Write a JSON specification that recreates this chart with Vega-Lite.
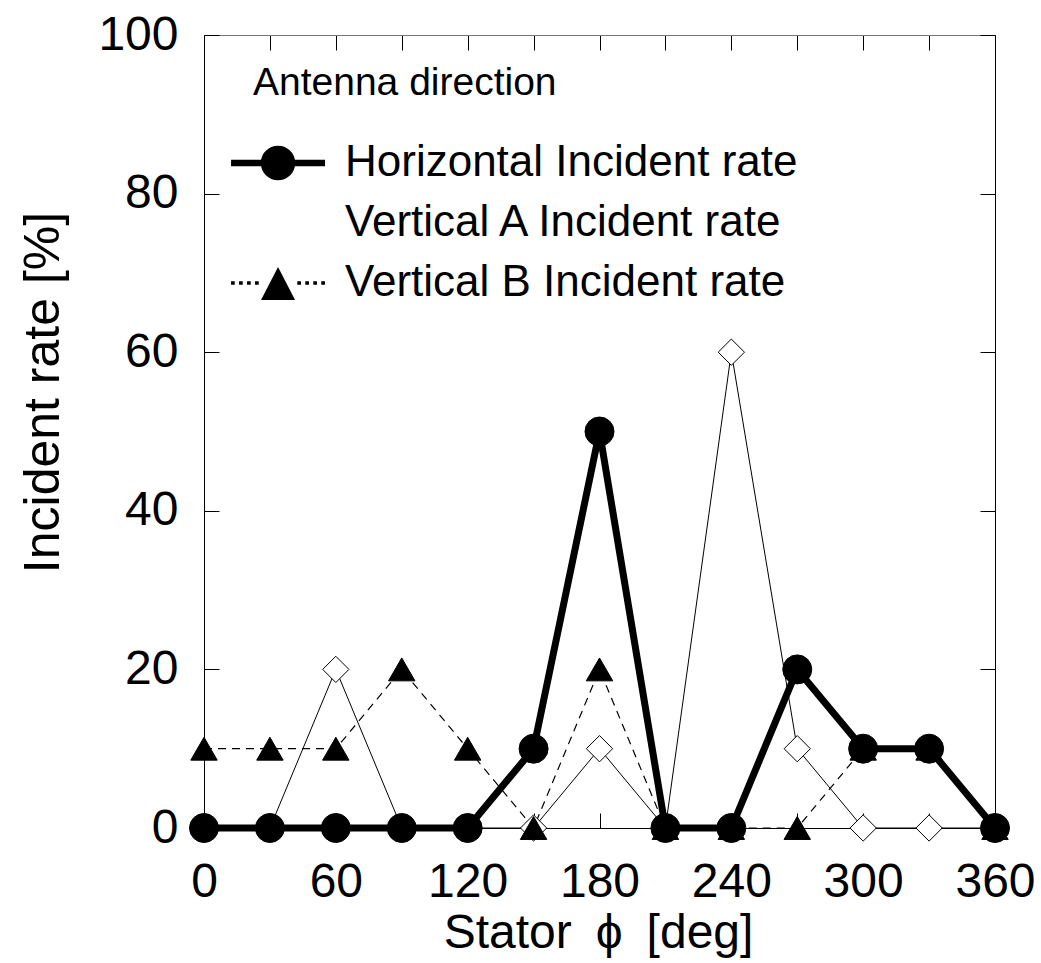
{
  "$schema": "https://vega.github.io/schema/vega-lite/v6.json",
  "width": 791,
  "height": 793,
  "autosize": {"type": "none"},
  "padding": {"left": 204, "top": 35, "right": 46, "bottom": 135},
  "background": "white",
  "config": {
    "font": "Liberation Sans",
    "view": {"stroke": null},
    "axis": {"grid": false, "domainColor": "black", "tickColor": "black", "labelColor": "black", "titleColor": "black", "titleFontWeight": "normal", "labelFont": "Liberation Sans", "titleFont": "Liberation Sans"}
  },
  "data": {
    "values": [
      {"series": "Vertical A Incident rate", "phi": 0, "rate": 0},
      {"series": "Vertical A Incident rate", "phi": 30, "rate": 0},
      {"series": "Vertical A Incident rate", "phi": 60, "rate": 20},
      {"series": "Vertical A Incident rate", "phi": 90, "rate": 0},
      {"series": "Vertical A Incident rate", "phi": 120, "rate": 0},
      {"series": "Vertical A Incident rate", "phi": 150, "rate": 0},
      {"series": "Vertical A Incident rate", "phi": 180, "rate": 10},
      {"series": "Vertical A Incident rate", "phi": 210, "rate": 0},
      {"series": "Vertical A Incident rate", "phi": 240, "rate": 60},
      {"series": "Vertical A Incident rate", "phi": 270, "rate": 10},
      {"series": "Vertical A Incident rate", "phi": 300, "rate": 0},
      {"series": "Vertical A Incident rate", "phi": 330, "rate": 0},
      {"series": "Vertical A Incident rate", "phi": 360, "rate": 0},
      {"series": "Vertical B Incident rate", "phi": 0, "rate": 10},
      {"series": "Vertical B Incident rate", "phi": 30, "rate": 10},
      {"series": "Vertical B Incident rate", "phi": 60, "rate": 10},
      {"series": "Vertical B Incident rate", "phi": 90, "rate": 20},
      {"series": "Vertical B Incident rate", "phi": 120, "rate": 10},
      {"series": "Vertical B Incident rate", "phi": 150, "rate": 0},
      {"series": "Vertical B Incident rate", "phi": 180, "rate": 20},
      {"series": "Vertical B Incident rate", "phi": 210, "rate": 0},
      {"series": "Vertical B Incident rate", "phi": 240, "rate": 0},
      {"series": "Vertical B Incident rate", "phi": 270, "rate": 0},
      {"series": "Vertical B Incident rate", "phi": 300, "rate": 10},
      {"series": "Vertical B Incident rate", "phi": 330, "rate": 10},
      {"series": "Vertical B Incident rate", "phi": 360, "rate": 0},
      {"series": "Horizontal Incident rate", "phi": 0, "rate": 0},
      {"series": "Horizontal Incident rate", "phi": 30, "rate": 0},
      {"series": "Horizontal Incident rate", "phi": 60, "rate": 0},
      {"series": "Horizontal Incident rate", "phi": 90, "rate": 0},
      {"series": "Horizontal Incident rate", "phi": 120, "rate": 0},
      {"series": "Horizontal Incident rate", "phi": 150, "rate": 10},
      {"series": "Horizontal Incident rate", "phi": 180, "rate": 50},
      {"series": "Horizontal Incident rate", "phi": 210, "rate": 0},
      {"series": "Horizontal Incident rate", "phi": 240, "rate": 0},
      {"series": "Horizontal Incident rate", "phi": 270, "rate": 20},
      {"series": "Horizontal Incident rate", "phi": 300, "rate": 10},
      {"series": "Horizontal Incident rate", "phi": 330, "rate": 10},
      {"series": "Horizontal Incident rate", "phi": 360, "rate": 0}
    ]
  },
  "resolve": {"axis": {"x": "independent", "y": "independent"}},
  "layer": [
    {
      "transform": [{"filter": "false"}],
      "mark": {"type": "point", "filled": true, "opacity": 1, "stroke": "black", "strokeWidth": 1.5},
      "encoding": {
        "x": {"field": "phi", "type": "quantitative", "scale": {"domain": [0, 360], "nice": false}, "axis": null},
        "y": {"field": "rate", "type": "quantitative", "scale": {"domain": [0, 100], "nice": false}, "axis": null},
        "fill": {"field": "series", "type": "nominal",
          "scale": {"domain": ["Horizontal Incident rate", "Vertical A Incident rate", "Vertical B Incident rate"], "range": ["black", "white", "black"]},
          "legend": {
            "title": "Antenna direction", "orient": "none", "legendX": 49, "legendY": 29, "padding": 0,
            "titleFontSize": 39, "titleFontWeight": "normal", "titleColor": "black", "titlePadding": 22, "titleLimit": 700,
            "labelFontSize": 44, "labelColor": "black", "labelLimit": 700, "labelOffset": 16,
            "symbolSize": 5476, "rowPadding": 0, "symbolStrokeColor": "black", "symbolStrokeWidth": 1.5, "symbolOpacity": 1
          }
        },
        "shape": {"field": "series", "type": "nominal",
          "scale": {"domain": ["Horizontal Incident rate", "Vertical A Incident rate", "Vertical B Incident rate"],
            "range": [
              "M-1.62,-0.09H0.92V0.09H-1.62ZM-0.816,0A0.466,0.466,0,1,1,0.116,0A0.466,0.466,0,1,1,-0.816,0Z",
              "M-1.62,0H-0.82M0.12,0H0.92M-0.82,0L-0.35,-0.47L0.12,0L-0.35,0.47Z",
              "M-1.62,-0.045h0.1v0.09h-0.1ZM-1.404,-0.045h0.1v0.09h-0.1ZM-1.188,-0.045h0.1v0.09h-0.1ZM-0.972,-0.045h0.1v0.09h-0.1ZM0.17,-0.045h0.1v0.09h-0.1ZM0.386,-0.045h0.1v0.09h-0.1ZM0.602,-0.045h0.1v0.09h-0.1ZM0.818,-0.045h0.1v0.09h-0.1ZM-0.35,-0.43L0.11,0.46L-0.81,0.46Z"
            ]},
          "legend": {
            "title": "Antenna direction", "orient": "none", "legendX": 49, "legendY": 29, "padding": 0,
            "titleFontSize": 39, "titleFontWeight": "normal", "titleColor": "black", "titlePadding": 22, "titleLimit": 700,
            "labelFontSize": 44, "labelColor": "black", "labelLimit": 700, "labelOffset": 16,
            "symbolSize": 5476, "rowPadding": 0, "symbolStrokeColor": "black", "symbolStrokeWidth": 1.5, "symbolOpacity": 1
          }
        }
      }
    },
    {
      "transform": [{"filter": "datum.series == 'Vertical B Incident rate'"}],
      "mark": {"type": "line", "color": "black", "strokeWidth": 1.2, "strokeDash": [8, 6]},
      "encoding": {
        "x": {"field": "phi", "type": "quantitative",
          "axis": {"orient": "bottom", "values": [0, 30, 60, 90, 120, 150, 180, 210, 240, 270, 300, 330, 360],
            "labelExpr": "datum.value % 60 == 0 ? datum.label : ''", "tickSize": -15, "labelPadding": 45,
            "labelFontSize": 48, "labelFlush": false, "labelOverlap": false,
            "title": "Stator\u2002ϕ\u2002[deg]", "titleFontSize": 48, "titleX": 394, "titleY": 119,
            "titleAlign": "center", "titleBaseline": "alphabetic"}},
        "y": {"field": "rate", "type": "quantitative",
          "axis": {"orient": "left", "values": [0, 20, 40, 60, 80, 100], "tickSize": -15, "labelPadding": 41,
            "labelFontSize": 48, "labelFlush": false, "labelOverlap": false,
            "title": "Incident rate [%]", "titleFontSize": 50, "titleAngle": -90, "titleX": -146, "titleY": 357,
            "titleAlign": "center", "titleBaseline": "alphabetic"}}
      }
    },
    {
      "transform": [{"filter": "datum.series == 'Vertical A Incident rate'"}],
      "mark": {"type": "line", "color": "black", "strokeWidth": 1},
      "encoding": {
        "x": {"field": "phi", "type": "quantitative",
          "axis": {"orient": "top", "values": [0, 30, 60, 90, 120, 150, 180, 210, 240, 270, 300, 330, 360],
            "tickSize": -15, "labels": false, "title": null, "domainColor": "#777"}},
        "y": {"field": "rate", "type": "quantitative",
          "axis": {"orient": "right", "values": [0, 20, 40, 60, 80, 100], "tickSize": -15, "labels": false, "title": null}}
      }
    },
    {
      "transform": [{"filter": "datum.series == 'Horizontal Incident rate'"}],
      "mark": {"type": "line", "color": "black", "strokeWidth": 7},
      "encoding": {
        "x": {"field": "phi", "type": "quantitative", "axis": null},
        "y": {"field": "rate", "type": "quantitative", "axis": null}
      }
    },
    {
      "transform": [{"filter": "datum.series == 'Vertical A Incident rate'"}],
      "mark": {"type": "point", "shape": "diamond", "filled": true, "fill": "white", "opacity": 1, "stroke": "black", "strokeWidth": 1, "size": 690},
      "encoding": {
        "x": {"field": "phi", "type": "quantitative", "axis": null},
        "y": {"field": "rate", "type": "quantitative", "axis": null}
      }
    },
    {
      "transform": [{"filter": "datum.series == 'Vertical B Incident rate'"}],
      "mark": {"type": "point", "shape": "triangle-up", "filled": true, "fill": "black", "opacity": 1, "stroke": "black", "strokeWidth": 1, "size": 700},
      "encoding": {
        "x": {"field": "phi", "type": "quantitative", "axis": null},
        "y": {"field": "rate", "type": "quantitative", "axis": null}
      }
    },
    {
      "transform": [{"filter": "datum.series == 'Horizontal Incident rate'"}],
      "mark": {"type": "point", "shape": "circle", "filled": true, "fill": "black", "opacity": 1, "stroke": "black", "strokeWidth": 1, "size": 841},
      "encoding": {
        "x": {"field": "phi", "type": "quantitative", "axis": null},
        "y": {"field": "rate", "type": "quantitative", "axis": null}
      }
    }
  ]
}
